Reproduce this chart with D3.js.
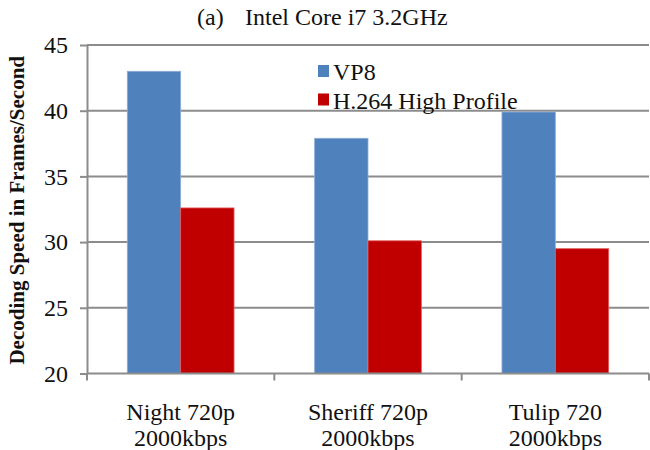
<!DOCTYPE html>
<html>
<head>
<meta charset="utf-8">
<script src="https://cdn.jsdelivr.net/npm/d3@7"></script>
<style>
  html, body { margin: 0; padding: 0; background: #fff; }
  svg { display: block; font-family: "Liberation Serif", "Times New Roman", serif; }
</style>
</head>
<body>
<svg id="chart" width="650" height="450"></svg>
<script>
const categories = ["Night 720p|2000kbps", "Sheriff 720p|2000kbps", "Tulip 720|2000kbps"];
const seriesNames = ["VP8", "H.264 High Profile"];
const vp8 = [43.0, 37.9, 39.9];
const h264 = [32.6, 30.1, 29.5];
const yTicks = [20, 25, 30, 35, 40, 45];
const colors = ["#4F81BD", "#C00000"];
const edgeColors = ["#8EAED6", "#E06060"];

const svg = d3.select("#chart");
const plotL = 87, plotR = 649, plotT = 45, plotB = 373.5;

const x = d3.scaleBand().domain(categories).range([plotL, plotR]).paddingInner(0).paddingOuter(0);
const inner = d3.scaleBand().domain(seriesNames).range([0, x.bandwidth()]).paddingInner(0).paddingOuter(0.755);
const y = d3.scaleLinear().domain([20, 45]).range([plotB, plotT]);

const grid = "#8c8c8c";

// gridlines
svg.append("g").selectAll("line").data(yTicks.filter(d => d !== 20)).join("line")
  .attr("x1", plotL).attr("x2", plotR)
  .attr("y1", d => y(d)).attr("y2", d => y(d))
  .attr("stroke", grid).attr("stroke-width", 2);

// bars
const data = categories.map((c, i) => ({ c, vals: [vp8[i], h264[i]] }));
const groups = svg.append("g").selectAll("g").data(data).join("g")
  .attr("transform", d => `translate(${x(d.c)},0)`);
groups.selectAll("rect").data(d => d.vals.map((v, j) => ({ v, s: seriesNames[j], j }))).join("rect")
  .attr("x", d => inner(d.s))
  .attr("width", inner.bandwidth())
  .attr("y", d => y(d.v))
  .attr("height", d => y(20) - y(d.v))
  .attr("fill", d => colors[d.j])
  .attr("stroke", d => edgeColors[d.j]).attr("stroke-width", 0.8);

// y axis
const yAxis = svg.append("g").attr("transform", `translate(${plotL},0)`)
  .call(d3.axisLeft(y).tickValues(yTicks).tickSize(7).tickPadding(12).tickSizeOuter(0));
yAxis.select(".domain").attr("stroke", grid).attr("stroke-width", 2);
yAxis.selectAll(".tick line").attr("stroke", grid).attr("stroke-width", 2);
yAxis.selectAll(".tick text").attr("font-size", 24).attr("fill", "#111")
  .attr("font-family", "Liberation Serif, Times New Roman, serif");

// x axis line
svg.append("line").attr("x1", plotL).attr("x2", plotR).attr("y1", y(20)).attr("y2", y(20))
  .attr("stroke", grid).attr("stroke-width", 2);
const bounds = categories.map(c => x(c)).concat([x(categories[categories.length - 1]) + x.bandwidth()]);
svg.append("g").selectAll("line").data(bounds).join("line")
  .attr("x1", d => d).attr("x2", d => d)
  .attr("y1", y(20)).attr("y2", y(20) + 7)
  .attr("stroke", grid).attr("stroke-width", 2);

// x labels
const xl = svg.append("g").selectAll("text").data(categories).join("text")
  .attr("text-anchor", "middle").attr("font-size", 24).attr("fill", "#111");
xl.each(function (d) {
  const parts = d.split("|");
  const t = d3.select(this);
  parts.forEach((p, i) => {
    t.append("tspan").attr("x", x(d) + x.bandwidth() / 2).attr("y", 420 + i * 26).text(p);
  });
});

// y label
svg.append("text")
  .attr("transform", `translate(24,${(plotT + plotB) / 2 + 1}) rotate(-90)`)
  .attr("text-anchor", "middle").attr("font-size", 21).attr("font-weight", "bold").attr("fill", "#111")
  .text("Decoding Speed in Frames/Second");

// title
const title = svg.append("text").attr("y", 25).attr("font-size", 24).attr("fill", "#111");
title.append("tspan").attr("x", 197).text("(a)");
title.append("tspan").attr("x", 245).text("Intel Core i7 3.2GHz");

// legend
const lg = svg.append("g").selectAll("g").data(seriesNames).join("g")
  .attr("transform", (d, i) => `translate(318,${65 + i * 28.5})`);
lg.append("rect").attr("width", 11).attr("height", 12).attr("fill", (d, i) => colors[i]);
lg.append("text").attr("x", 15).attr("y", 15).attr("font-size", 24).attr("fill", "#111").text(d => d);
</script>
</body>
</html>
